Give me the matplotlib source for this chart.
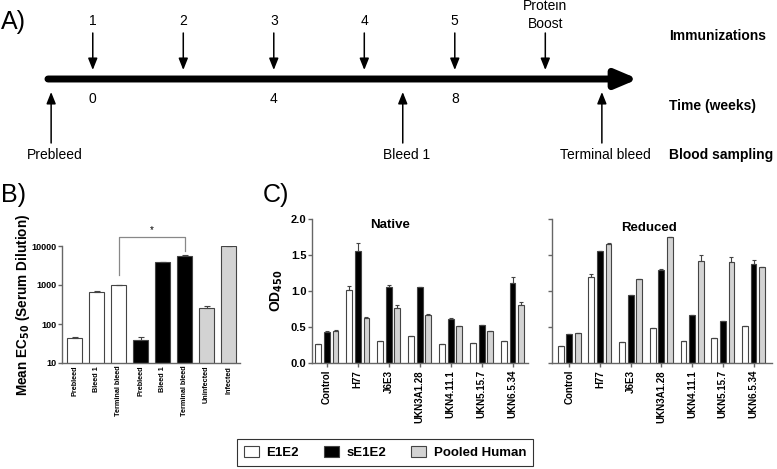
import matplotlib
matplotlib.use("Agg")
import matplotlib.pyplot as plt
from matplotlib.patches import Patch
import numpy as np

plt.rcParams['font.family'] = ['Liberation Sans', 'DejaVu Sans']

W, H = 777, 469

# ---- panel A: schedule ----
immun_weeks = [0, 2, 4, 6, 8, 10]
immun_labels = ['1', '2', '3', '4', '5', 'Protein\nBoost']
time_weeks = [0, 4, 8]
bleed_weeks = [-0.92, 6.85, 11.25]
bleed_labels = ['Prebleed', 'Bleed 1', 'Terminal bleed']
row_labels = ['Immunizations', 'Time (weeks)', 'Blood sampling']

# ---- panel B: EC50 ----
b_labels = ['Prebleed', 'Bleed 1', 'Terminal bleed', 'Prebleed', 'Bleed 1',
            'Terminal bleed', 'Uninfected', 'Infected']
b_values = [44, 650, 980, 40, 3800, 5700, 250, 9800]
b_err = [2, 40, 30, 6, 150, 250, 45, 300]
b_groups = ['E1E2', 'E1E2', 'E1E2', 'sE1E2', 'sE1E2', 'sE1E2', 'Pooled', 'Pooled']

# ---- panel C: OD450 ----
mabs = ['Control', 'H77', 'J6E3', 'UKN3A1.28', 'UKN4.11.1', 'UKN5.15.7', 'UKN6.5.34']
native_e1e2 = [0.26, 1.02, 0.31, 0.37, 0.27, 0.28, 0.31]
native_se1e2 = [0.43, 1.56, 1.06, 1.05, 0.61, 0.53, 1.11]
native_pooled = [0.45, 0.62, 0.77, 0.67, 0.51, 0.45, 0.81]
native_e1e2_err = [0.0, 0.05, 0.0, 0.0, 0.0, 0.0, 0.0]
native_se1e2_err = [0.01, 0.11, 0.03, 0.0, 0.01, 0.0, 0.09]
native_pooled_err = [0.01, 0.02, 0.03, 0.01, 0.0, 0.0, 0.04]
reduced_e1e2 = [0.23, 1.20, 0.29, 0.48, 0.30, 0.35, 0.52]
reduced_se1e2 = [0.40, 1.55, 0.94, 1.29, 0.67, 0.59, 1.37]
reduced_pooled = [0.42, 1.65, 1.17, 1.75, 1.41, 1.40, 1.34]
reduced_e1e2_err = [0.0, 0.04, 0.0, 0.0, 0.0, 0.0, 0.0]
reduced_se1e2_err = [0.0, 0.0, 0.0, 0.01, 0.0, 0.0, 0.06]
reduced_pooled_err = [0.0, 0.01, 0.0, 0.0, 0.09, 0.07, 0.0]

colors = {'E1E2': 'white', 'sE1E2': 'black', 'Pooled': '#d3d3d3'}
edge = '#444444'
spine_c = '#666666'


def px(l, t, r, b):
    return [l / W, 1 - b / H, (r - l) / W, (b - t) / H]


fig = plt.figure(figsize=(W / 100, H / 100), dpi=100)

# panel A
axA = fig.add_axes(px(0, 0, W, 170))
axA.set_xlim(-2.05, 15.12)   # weeks, ~45 px per week
axA.set_ylim(170, 0)
axA.axis('off')
axA.annotate('', xy=(12.05, 79), xytext=(-0.99, 79),
             arrowprops=dict(arrowstyle='-|>,head_length=1.3,head_width=0.55',
                             lw=5, color='black', capstyle='round',
                             shrinkA=0, shrinkB=0))
for w, lab in zip(immun_weeks, immun_labels):
    axA.annotate('', xy=(w, 70), xytext=(w, 33),
                 arrowprops=dict(arrowstyle='-|>,head_length=0.7,head_width=0.28',
                                 lw=1.1, color='black', shrinkA=0, shrinkB=0))
    if '\n' in lab:
        axA.text(w, 15, lab, ha='center', va='center', fontsize=10, linespacing=1.35)
    else:
        axA.text(w, 21, lab, ha='center', va='center', fontsize=10)
for w in time_weeks:
    axA.text(w, 99, str(w), ha='center', va='center', fontsize=10)
for w, lab in zip(bleed_weeks, bleed_labels):
    axA.annotate('', xy=(w, 92), xytext=(w, 143),
                 arrowprops=dict(arrowstyle='-|>,head_length=0.7,head_width=0.28',
                                 lw=1.1, color='black', shrinkA=0, shrinkB=0))
    axA.text(w + 0.08, 155, lab, ha='center', va='center', fontsize=10)
for y, lab in zip([36, 106, 155], row_labels):
    fig.text(669 / W, 1 - y / H, lab, ha='left', va='center', fontsize=10,
             fontweight='bold')
fig.text(1 / W, 1 - 22 / H, 'A)', fontsize=18, va='center', ha='left')


def style(ax, ylab_size):
    for s in ['top', 'right']:
        ax.spines[s].set_visible(False)
    for s in ['left', 'bottom']:
        ax.spines[s].set_color(spine_c)
        ax.spines[s].set_linewidth(1)
    ax.tick_params(axis='y', length=3, width=1, color=spine_c, labelsize=ylab_size, pad=1)
    ax.tick_params(axis='x', length=3, width=1, color=spine_c, pad=2)
    for t in ax.get_yticklabels():
        t.set_fontweight('bold')


# panel B
axB = fig.add_axes(px(62, 246, 240, 363))
xb = np.arange(len(b_values))
axB.bar(xb, b_values, width=0.68, color=[colors[g] for g in b_groups],
        edgecolor=edge, linewidth=0.8, yerr=[np.zeros(len(b_err)), b_err],
        error_kw=dict(lw=0.8, capsize=2, ecolor=edge, capthick=0.8))
axB.set_yscale('log')
axB.set_ylim(10, 10000)
axB.set_xlim(-0.57, len(b_values) - 0.48)
axB.set_yticks([10, 100, 1000, 10000])
axB.set_yticklabels(['10', '100', '1000', '10000'])
axB.minorticks_off()
axB.set_xticks(xb)
axB.set_xticklabels(b_labels, rotation=90, fontsize=5.2, fontweight='bold')
style(axB, 6.5)
axB.tick_params(axis='x', length=0)
axB.set_ylabel('Mean EC$_{\\mathbf{50}}$ (Serum Dilution)', fontsize=9.8,
               fontweight='bold')
axB.yaxis.set_label_coords(-0.17, 0.5)
axB.plot([2, 2, 5, 5], [1800, 17000, 17000, 7500], color='#888888', lw=0.9,
         clip_on=False)
axB.text(3.5, 19000, '*', ha='center', va='bottom', fontsize=7)
fig.text(1 / W, 1 - 195 / H, 'B)', fontsize=18, va='center', ha='left')


# panel C
def od_panel(box, e1, s1, p1, e1e, s1e, p1e, title, title_x, title_y, xlim, show_y):
    ax = fig.add_axes(px(*box))
    x = np.arange(len(mabs))
    w = 0.19
    for off, vals, err, key in [(-0.28, e1, e1e, 'E1E2'), (0, s1, s1e, 'sE1E2'),
                                (0.28, p1, p1e, 'Pooled')]:
        ax.bar(x + off, vals, width=w, color=colors[key], edgecolor=edge, linewidth=0.8,
               yerr=[np.zeros(len(err)), err],
               error_kw=dict(lw=0.8, capsize=1.5, ecolor=edge, capthick=0.8))
    ax.set_ylim(0, 2.0)
    ax.set_xlim(*xlim)
    ax.set_yticks([0, 0.5, 1.0, 1.5, 2.0])
    ax.set_xticks(x)
    ax.set_xticklabels(mabs, rotation=90, fontsize=7, fontweight='bold')
    style(ax, 8)
    if show_y:
        ax.set_yticklabels(['0.0', '0.5', '1.0', '1.5', '2.0'])
        for t in ax.get_yticklabels():
            t.set_fontweight('bold')
        ax.set_ylabel('OD$_{\\mathbf{450}}$', fontsize=10, fontweight='bold', labelpad=4)
    else:
        ax.set_yticklabels([])
    ax.text(title_x, title_y, title, transform=ax.transAxes, ha='center', va='center',
            fontsize=9.5, fontweight='bold')
    return ax


od_panel((312, 219, 528, 363), native_e1e2, native_se1e2, native_pooled,
         native_e1e2_err, native_se1e2_err, native_pooled_err, 'Native',
         0.36, 0.96, (-0.48, 6.5), True)
od_panel((552, 219, 772, 363), reduced_e1e2, reduced_se1e2, reduced_pooled,
         reduced_e1e2_err, reduced_se1e2_err, reduced_pooled_err, 'Reduced',
         0.44, 0.94, (-0.56, 6.6), False)
fig.text(263 / W, 1 - 195 / H, 'C)', fontsize=18, va='center', ha='left')

# legend
handles = [Patch(facecolor=colors[k], edgecolor=edge, linewidth=0.8)
           for k in ['E1E2', 'sE1E2', 'Pooled']]
leg = fig.legend(handles, ['E1E2', 'sE1E2', 'Pooled Human'], ncol=3,
                 loc='center', bbox_to_anchor=(385 / W, 1 - 452.5 / H),
                 frameon=True, fancybox=False, edgecolor='black',
                 prop={'weight': 'bold', 'size': 9.5}, handlelength=1.15,
                 handleheight=0.85, handletextpad=0.55, columnspacing=1.9,
                 borderpad=0.55, borderaxespad=0)
leg.get_frame().set_linewidth(0.8)

fig.savefig('out.png', dpi=100)
